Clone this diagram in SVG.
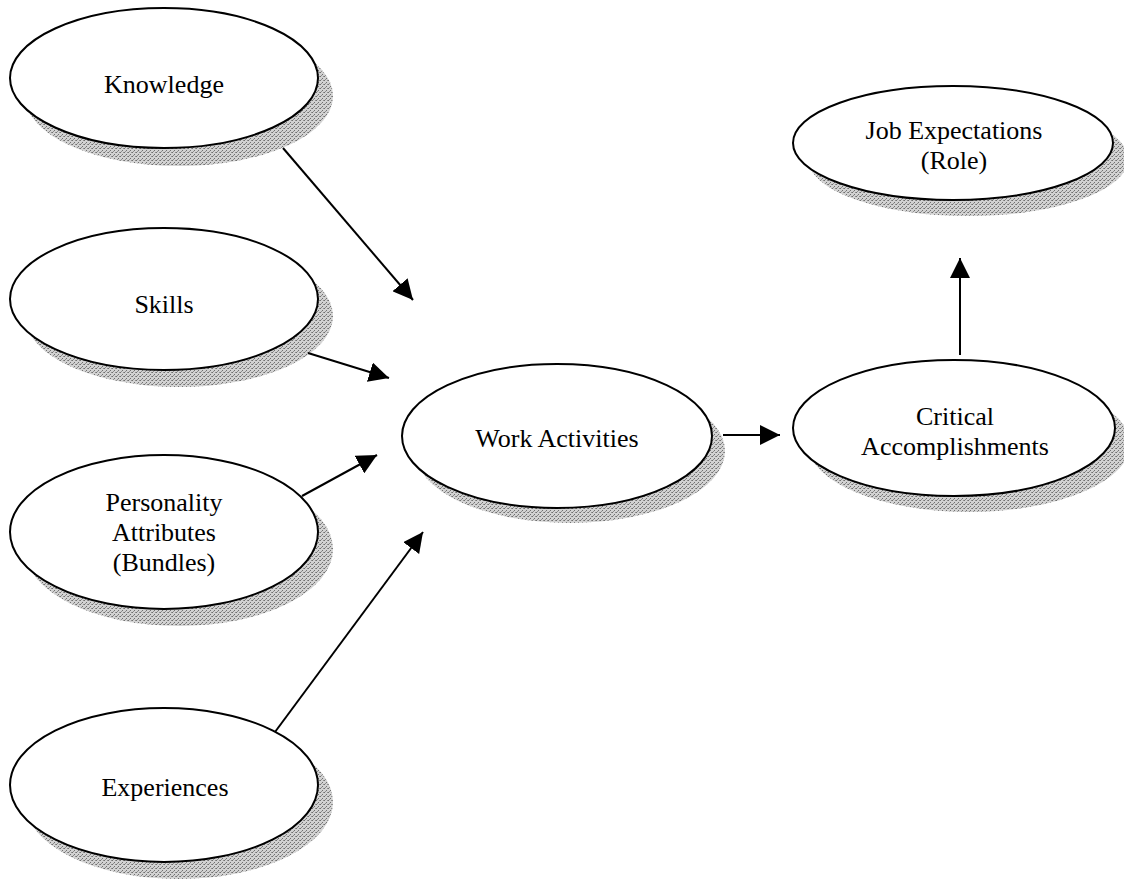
<svg xmlns="http://www.w3.org/2000/svg" width="1124" height="880" viewBox="0 0 1124 880">
<style>
.shadow{fill:#b9b9b9;stroke:none}
.node{fill:#ffffff;stroke:#000000;stroke-width:2}
.lbl{font-family:"Liberation Serif","Times New Roman",serif;font-size:26px;fill:#000000;text-anchor:middle}
.conn{stroke:#000000;stroke-width:2;fill:none;marker-end:url(#ah)}
</style>
<defs>
<pattern id="dither" width="4" height="4" patternUnits="userSpaceOnUse">
<rect width="4" height="4" fill="#d2d2d2"/>
<rect x="0" y="0" width="1" height="1" fill="#707070"/>
<rect x="2" y="2" width="1" height="1" fill="#707070"/>
<rect x="3" y="0" width="1" height="1" fill="#909090"/>
<rect x="1" y="3" width="1" height="1" fill="#909090"/>
</pattern>
<marker id="ah" viewBox="0 0 20 20" refX="20" refY="10" markerWidth="20" markerHeight="20" markerUnits="userSpaceOnUse" orient="auto">
<path d="M0,0 L20,10 L0,20 z" fill="#000000"/>
</marker>
</defs>
<rect width="1124" height="880" fill="#ffffff"/>

<g id="knowledge">
<ellipse class="shadow" cx="179" cy="96" rx="154" ry="70" fill="url(#dither)" style="fill:url(#dither)"/>
<ellipse class="node" cx="164" cy="78" rx="154" ry="70"/>
<text class="lbl" x="164" y="93">Knowledge</text>
</g>

<g id="skills">
<ellipse class="shadow" cx="179" cy="316" rx="154" ry="71" style="fill:url(#dither)"/>
<ellipse class="node" cx="164" cy="299" rx="154" ry="71"/>
<text class="lbl" x="164" y="313">Skills</text>
</g>

<g id="personality">
<ellipse class="shadow" cx="179" cy="549" rx="154" ry="77" style="fill:url(#dither)"/>
<ellipse class="node" cx="164" cy="532" rx="154" ry="77"/>
<text class="lbl" x="164" y="511">Personality</text>
<text class="lbl" x="164" y="541">Attributes</text>
<text class="lbl" x="164" y="571">(Bundles)</text>
</g>

<g id="experiences">
<ellipse class="shadow" cx="179" cy="802" rx="154" ry="77" style="fill:url(#dither)"/>
<ellipse class="node" cx="164" cy="785" rx="154" ry="77"/>
<text class="lbl" x="165" y="796">Experiences</text>
</g>

<g id="work">
<ellipse class="shadow" cx="570" cy="451" rx="155" ry="72" style="fill:url(#dither)"/>
<ellipse class="node" cx="557" cy="436" rx="155" ry="72"/>
<text class="lbl" x="557" y="447">Work Activities</text>
</g>

<g id="critical">
<ellipse class="shadow" cx="969" cy="444" rx="161" ry="68" style="fill:url(#dither)"/>
<ellipse class="node" cx="954" cy="428" rx="161" ry="68"/>
<text class="lbl" x="955" y="425">Critical</text>
<text class="lbl" x="955" y="455">Accomplishments</text>
</g>

<g id="job">
<ellipse class="shadow" cx="968" cy="159" rx="160" ry="57" style="fill:url(#dither)"/>
<ellipse class="node" cx="953" cy="143" rx="160" ry="57"/>
<text class="lbl" x="954" y="139">Job Expectations</text>
<text class="lbl" x="954" y="169">(Role)</text>
</g>

<g id="connectors">
<line class="conn" x1="283" y1="148" x2="413" y2="300"/>
<line class="conn" x1="308" y1="353" x2="389" y2="378"/>
<line class="conn" x1="302" y1="496" x2="377" y2="455"/>
<line class="conn" x1="275" y1="732" x2="423" y2="532"/>
<line class="conn" x1="723" y1="435" x2="780" y2="435"/>
<line class="conn" x1="960" y1="355" x2="960" y2="258"/>
</g>
</svg>
